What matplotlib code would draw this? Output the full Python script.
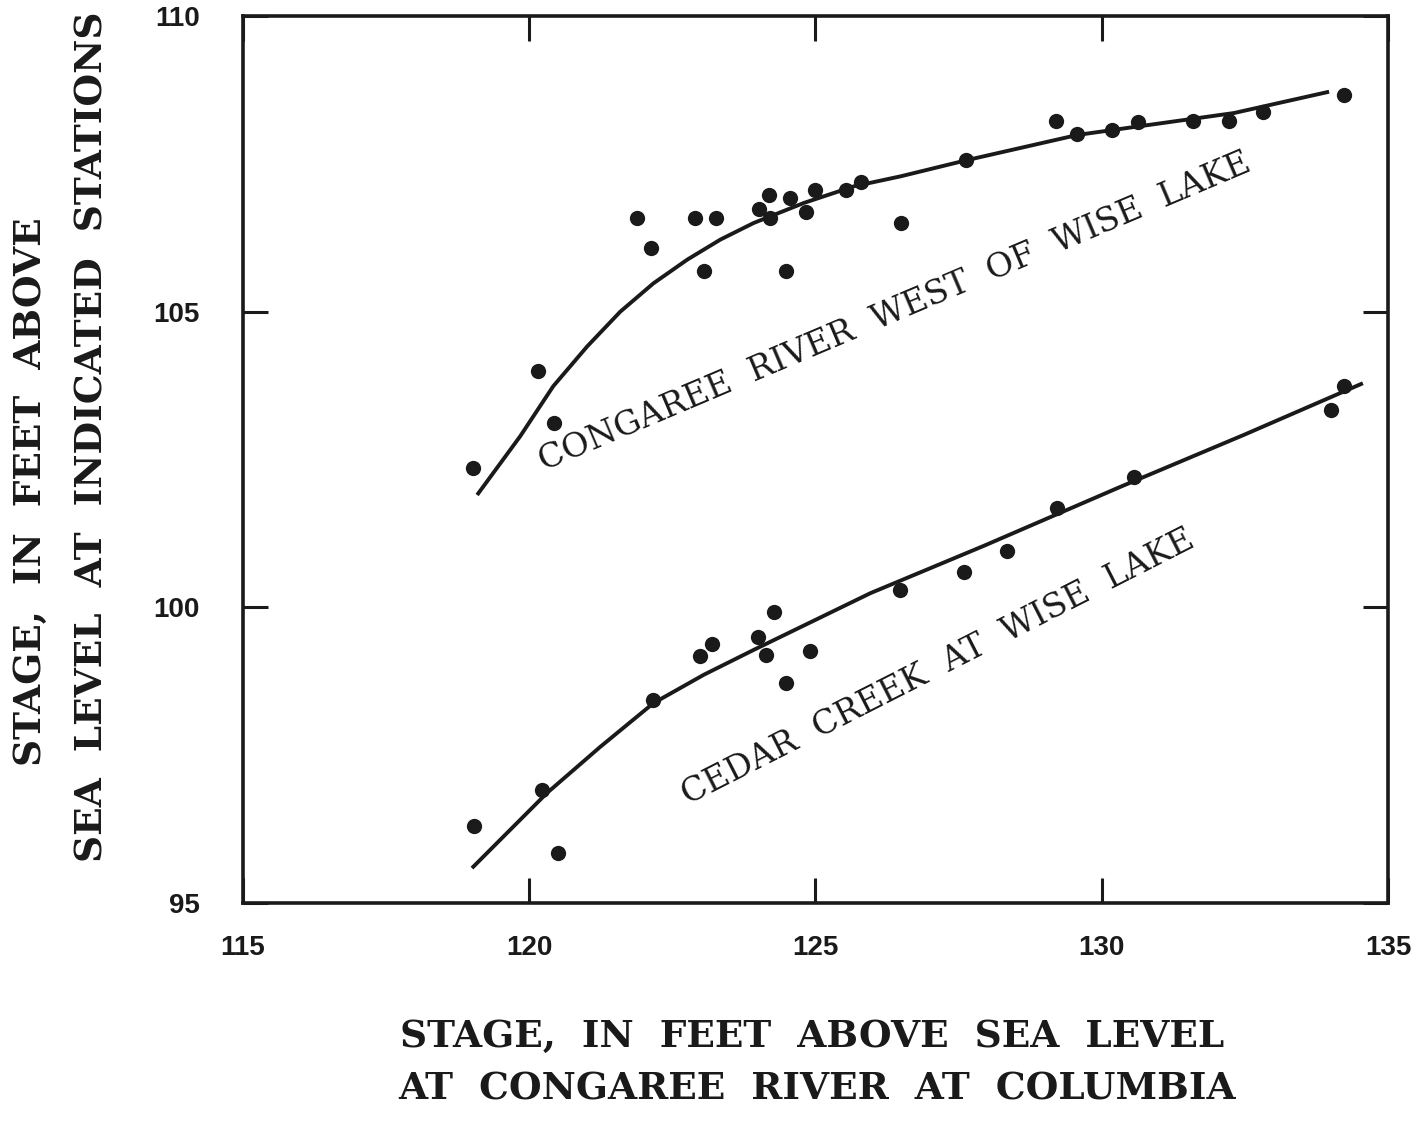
import matplotlib
matplotlib.use("Agg")
import matplotlib.pyplot as plt

# observed stages, Congaree River west of Wise Lake
congaree_x = [119.02, 120.16, 120.44, 121.89, 122.13, 122.90, 123.06, 123.27,
              124.02, 124.18, 124.20, 124.48, 124.56, 124.83, 125.00, 125.54,
              125.80, 126.50, 127.62, 129.20, 129.56, 130.17, 130.63, 131.59,
              132.22, 132.81, 134.23]
congaree_y = [102.36, 104.00, 103.12, 106.59, 106.08, 106.59, 105.69, 106.59,
              106.74, 106.98, 106.59, 105.69, 106.93, 106.68, 107.05, 107.05,
              107.20, 106.50, 107.57, 108.23, 108.01, 108.08, 108.20, 108.23,
              108.23, 108.38, 108.67]

# fitted curve
congaree_fit_x = [119.09, 119.84, 120.42, 121.01, 121.59, 122.17, 122.76, 123.34,
                  123.92, 124.80, 125.67, 126.49, 127.63, 129.58, 132.31, 133.97]
congaree_fit_y = [101.90, 102.89, 103.74, 104.41, 105.00, 105.48, 105.88, 106.22,
                  106.50, 106.84, 107.12, 107.29, 107.56, 107.99, 108.36, 108.72]

# observed stages, Cedar Creek at Wise Lake
cedar_x = [119.04, 120.23, 120.51, 122.17, 122.99, 123.20, 124.00, 124.13,
           124.28, 124.49, 124.90, 126.47, 127.59, 128.34, 129.21, 130.56,
           134.00, 134.23]
cedar_y = [96.30, 96.91, 95.85, 98.43, 99.18, 99.38, 99.50, 99.20,
           99.92, 98.72, 99.26, 100.30, 100.60, 100.96, 101.68, 102.21,
           103.34, 103.75]

cedar_fit_x = [119.00, 120.31, 121.24, 122.17, 123.05, 123.92, 125.96, 127.94,
               130.33, 132.49, 134.56]
cedar_fit_y = [95.59, 96.86, 97.64, 98.38, 98.86, 99.28, 100.24, 101.04,
               102.04, 102.92, 103.79]

ink = "#1a1a1a"
serif = "DejaVu Serif"

fig = plt.figure(figsize=(14.19, 11.22), dpi=100)
ax = fig.add_axes([0.1712, 0.1952, 0.807, 0.7905])

ax.plot(congaree_fit_x, congaree_fit_y, color=ink, lw=2.8,
        solid_capstyle="butt", solid_joinstyle="round")
ax.plot(cedar_fit_x, cedar_fit_y, color=ink, lw=2.8,
        solid_capstyle="butt", solid_joinstyle="round")
ax.plot(congaree_x, congaree_y, "o", color=ink, ms=11, mew=0)
ax.plot(cedar_x, cedar_y, "o", color=ink, ms=11, mew=0)

ax.set_xlim(115, 135)
ax.set_ylim(95, 110)
ax.set_xticks([115, 120, 125, 130, 135])
ax.set_yticks([95, 100, 105, 110])
ax.tick_params(direction="in", length=18, width=2.2, color=ink,
               top=True, right=True, labelsize=20, labelcolor=ink)
ax.tick_params(axis="x", pad=23)
ax.tick_params(axis="y", pad=31)
for lab in ax.get_xticklabels() + ax.get_yticklabels():
    lab.set_fontfamily("Liberation Sans")
    lab.set_fontweight("bold")
for sp in ax.spines.values():
    sp.set_linewidth(2.6)
    sp.set_color(ink)

ax.text(120.25, 102.3, "CONGAREE  RIVER  WEST  OF  WISE  LAKE", rotation=23,
        rotation_mode="anchor", ha="left", va="baseline", fontsize=24,
        family=serif, color=ink)
ax.text(122.78, 96.65, "CEDAR  CREEK  AT  WISE  LAKE", rotation=27,
        rotation_mode="anchor", ha="left", va="baseline", fontsize=24,
        family=serif, color=ink)

fig.text(0.572, 1 - 1047 / 1122, "STAGE,  IN  FEET  ABOVE  SEA  LEVEL",
         ha="center", va="baseline", fontsize=27, fontweight="bold",
         family=serif, color=ink)
fig.text(0.576, 1 - 1100 / 1122, "AT  CONGAREE  RIVER  AT  COLUMBIA",
         ha="center", va="baseline", fontsize=27, fontweight="bold",
         family=serif, color=ink)
fig.text(30 / 1419, 1 - 492 / 1122, "STAGE,  IN  FEET  ABOVE",
         ha="center", va="center", rotation=90, fontsize=27, fontweight="bold",
         family=serif, color=ink)
fig.text(92 / 1419, 1 - 437 / 1122, "SEA  LEVEL  AT  INDICATED  STATIONS",
         ha="center", va="center", rotation=90, fontsize=27, fontweight="bold",
         family=serif, color=ink)

fig.savefig("out.png", dpi=100, facecolor="white")
